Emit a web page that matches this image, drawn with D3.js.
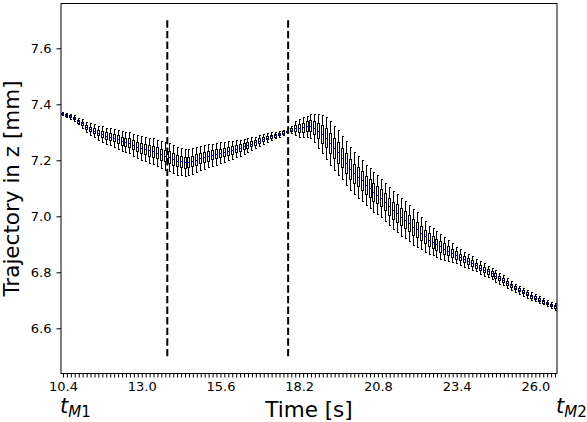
<!DOCTYPE html>
<html>
<head>
<meta charset="utf-8">
<script src="https://cdn.jsdelivr.net/npm/d3@7"></script>
<style>
  body { margin: 0; background: #fff; }
  svg { display: block; font-family: "DejaVu Sans", sans-serif; }
</style>
</head>
<body>
<svg width="587" height="422"></svg>
<script>
// box positions are 1..N, only some of them carry a label
var tickIdx = [1, 21, 41, 61, 81, 101, 121]
var tickLabels = ["10.4", "13.0", "15.6", "18.2", "20.8", "23.4", "26.0"]
var yTicks = [6.6, 6.8, 7.0, 7.2, 7.4, 7.6]
// dashed markers, in box-position units
var markers = [27.5, 58.2]
var markerSpan = [6.5, 7.7]

// median of each box [mm]
var medians = [
  7.368, 7.362, 7.357, 7.350, 7.340, 7.332, 7.320, 7.312, 7.305, 7.299,
  7.294, 7.288, 7.284, 7.281, 7.275, 7.270, 7.266, 7.263, 7.256, 7.249,
  7.244, 7.240, 7.236, 7.232, 7.227, 7.222, 7.217, 7.212, 7.205, 7.199,
  7.196, 7.193, 7.194, 7.198, 7.202, 7.207, 7.212, 7.216, 7.220, 7.223,
  7.227, 7.230, 7.234, 7.237, 7.241, 7.245, 7.250, 7.254, 7.259, 7.264,
  7.270, 7.277, 7.281, 7.286, 7.290, 7.295, 7.299, 7.303, 7.310, 7.314,
  7.316, 7.318, 7.321, 7.324, 7.317, 7.306, 7.294, 7.280, 7.261, 7.245,
  7.228, 7.210, 7.190, 7.170, 7.153, 7.141, 7.128, 7.113, 7.100, 7.087,
  7.077, 7.067, 7.052, 7.036, 7.021, 7.012, 6.999, 6.988, 6.977, 6.963,
  6.953, 6.940, 6.928, 6.917, 6.909, 6.900, 6.893, 6.885, 6.877, 6.870,
  6.862, 6.855, 6.847, 6.841, 6.834, 6.826, 6.817, 6.810, 6.803, 6.796,
  6.788, 6.779, 6.771, 6.761, 6.753, 6.745, 6.738, 6.731, 6.723, 6.715,
  6.709, 6.702, 6.697, 6.691, 6.684, 6.678
]
// half of the interquartile range
var boxHalf = [
  0.002, 0.003, 0.004, 0.004, 0.005, 0.006, 0.007, 0.008, 0.009, 0.010,
  0.011, 0.012, 0.012, 0.013, 0.014, 0.015, 0.015, 0.015, 0.016, 0.017,
  0.018, 0.018, 0.019, 0.019, 0.019, 0.020, 0.021, 0.021, 0.021, 0.021,
  0.020, 0.020, 0.019, 0.019, 0.019, 0.018, 0.018, 0.017, 0.016, 0.016,
  0.015, 0.015, 0.014, 0.013, 0.012, 0.012, 0.011, 0.010, 0.009, 0.009,
  0.008, 0.007, 0.006, 0.006, 0.005, 0.004, 0.004, 0.003, 0.006, 0.011,
  0.014, 0.016, 0.018, 0.019, 0.022, 0.027, 0.031, 0.034, 0.036, 0.036,
  0.036, 0.035, 0.035, 0.035, 0.034, 0.034, 0.033, 0.032, 0.032, 0.031,
  0.031, 0.031, 0.031, 0.031, 0.031, 0.031, 0.030, 0.030, 0.029, 0.029,
  0.027, 0.026, 0.024, 0.022, 0.021, 0.020, 0.019, 0.018, 0.016, 0.015,
  0.013, 0.012, 0.011, 0.010, 0.010, 0.009, 0.009, 0.009, 0.008, 0.008,
  0.008, 0.008, 0.007, 0.007, 0.006, 0.006, 0.006, 0.006, 0.005, 0.005,
  0.005, 0.005, 0.005, 0.004, 0.004, 0.004
]
// distance from median to whisker ends
var whiskerHalf = [
  0.005, 0.007, 0.009, 0.011, 0.012, 0.016, 0.018, 0.021, 0.023, 0.025,
  0.027, 0.029, 0.030, 0.032, 0.034, 0.036, 0.036, 0.037, 0.039, 0.041,
  0.043, 0.043, 0.045, 0.046, 0.046, 0.048, 0.050, 0.050, 0.050, 0.050,
  0.048, 0.048, 0.046, 0.046, 0.045, 0.043, 0.043, 0.041, 0.039, 0.039,
  0.037, 0.036, 0.034, 0.032, 0.030, 0.029, 0.027, 0.025, 0.023, 0.021,
  0.020, 0.018, 0.016, 0.014, 0.012, 0.011, 0.009, 0.007, 0.014, 0.025,
  0.032, 0.036, 0.039, 0.043, 0.050, 0.061, 0.068, 0.075, 0.079, 0.079,
  0.079, 0.078, 0.078, 0.077, 0.075, 0.075, 0.073, 0.071, 0.071, 0.070,
  0.070, 0.068, 0.068, 0.068, 0.068, 0.068, 0.068, 0.066, 0.064, 0.064,
  0.061, 0.057, 0.054, 0.050, 0.048, 0.046, 0.045, 0.041, 0.037, 0.034,
  0.030, 0.029, 0.027, 0.025, 0.025, 0.023, 0.023, 0.023, 0.021, 0.021,
  0.021, 0.020, 0.018, 0.018, 0.016, 0.014, 0.014, 0.014, 0.013, 0.013,
  0.013, 0.013, 0.011, 0.011, 0.011, 0.011
]

var svg = d3.select("svg")
// plot area edges in px (names chosen to avoid window.top)
var plotL = 61, plotR = 557, plotT = 3.5, plotB = 373.5
var n = medians.length

var x = d3.scaleLinear().domain([0.5, n + 0.5]).range([plotL, plotR])
var y = d3.scaleLinear().domain([6.4386, 7.760]).range([plotB, plotT])

var boxes = medians.map(function(m, i) {
  return {
    pos: i + 1,
    med: m,
    q1: m - boxHalf[i], q3: m + boxHalf[i],
    lo: m - whiskerHalf[i], hi: m + whiskerHalf[i]
  }
})

// snap box centres to pixel centres, like matplotlib does
function cx(d) { return Math.floor(x(d.pos)) + 0.5 }
function py(v) { return Math.round(y(v)) + 0.5 }

var g = svg.append("g").attr("shape-rendering", "crispEdges")

// boxes
g.selectAll(".box").data(boxes).enter().append("rect")
    .attr("x", function(d) { return cx(d) - 1 })
    .attr("y", function(d) { return py(d.q3) })
    .attr("width", 2)
    .attr("height", function(d) { return Math.max(1, py(d.q1) - py(d.q3)) })
    .attr("fill", "none").attr("stroke", "#000").attr("stroke-width", 1)

// whiskers
g.selectAll(".wup").data(boxes).enter().append("line")
    .attr("x1", cx).attr("x2", cx)
    .attr("y1", function(d) { return py(d.q3) }).attr("y2", function(d) { return py(d.hi) })
    .attr("stroke", "#000").attr("stroke-width", 1)
g.selectAll(".wdn").data(boxes).enter().append("line")
    .attr("x1", cx).attr("x2", cx)
    .attr("y1", function(d) { return py(d.q1) }).attr("y2", function(d) { return py(d.lo) })
    .attr("stroke", "#000").attr("stroke-width", 1)

// caps
;["hi", "lo"].forEach(function(k) {
  g.selectAll(".cap-" + k).data(boxes).enter().append("line")
      .attr("x1", function(d) { return cx(d) - 1 })
      .attr("x2", function(d) { return cx(d) + 1 })
      .attr("y1", function(d) { return py(d[k]) }).attr("y2", function(d) { return py(d[k]) })
      .attr("stroke", "#000").attr("stroke-width", 1)
})

// medians
g.selectAll(".med").data(boxes).enter().append("line")
    .attr("x1", function(d) { return cx(d) - 1 })
    .attr("x2", function(d) { return cx(d) + 1 })
    .attr("y1", function(d) { return py(d.med) }).attr("y2", function(d) { return py(d.med) })
    .attr("stroke", "#0000ff").attr("stroke-width", 1)

// dashed vertical markers
svg.append("g").selectAll(".marker").data(markers).enter().append("line")
    .attr("x1", function(d) { return x(d) }).attr("x2", function(d) { return x(d) })
    .attr("y1", y(markerSpan[0])).attr("y2", y(markerSpan[1]))
    .attr("stroke", "#000").attr("stroke-width", 2)
    .attr("stroke-dasharray", "7.4,3.2")

// axes
var xAxis = d3.axisBottom(x)
    .tickValues(d3.range(1, n + 1))
    .tickFormat(function(d) { var k = tickIdx.indexOf(d); return k < 0 ? "" : tickLabels[k] })
    .tickSize(4).tickSizeOuter(0).tickPadding(4)
svg.append("g").attr("transform", "translate(0," + plotB + ")").call(xAxis)

var yAxis = d3.axisLeft(y).tickValues(yTicks).tickFormat(d3.format(".1f"))
    .tickSize(4.5).tickSizeOuter(0).tickPadding(5)
svg.append("g").attr("transform", "translate(" + plotL + ",0)").call(yAxis)

svg.selectAll(".domain").remove()
svg.selectAll(".tick text").attr("font-family", "DejaVu Sans").attr("font-size", 13).attr("fill", "#000")
svg.selectAll(".tick line").attr("stroke", "#000")

// frame
svg.append("rect")
    .attr("x", plotL).attr("y", plotT).attr("width", plotR - plotL).attr("height", plotB - plotT)
    .attr("fill", "none").attr("stroke", "#000").attr("stroke-width", 1)

// axis labels
svg.append("text").attr("x", (plotL + plotR) / 2).attr("y", 417)
    .attr("text-anchor", "middle").attr("font-size", 21.5).text("Time [s]")
svg.append("text").attr("transform", "translate(19," + (plotT + plotB) / 2 + ") rotate(-90)")
    .attr("text-anchor", "middle").attr("font-size", 21.5).text("Trajectory in z [mm]")

// t_M1 / t_M2 marks
;[["M1", 60], ["M2", 556]].forEach(function(p) {
  var t = svg.append("text").attr("x", p[1]).attr("y", 413).attr("font-size", 21)
  t.append("tspan").attr("font-style", "italic").text("t")
  t.append("tspan").attr("font-size", 15).attr("dy", 4).attr("font-style", "italic").text(p[0].charAt(0))
  t.append("tspan").attr("font-size", 15).text(p[0].charAt(1))
})
</script>
</body>
</html>
